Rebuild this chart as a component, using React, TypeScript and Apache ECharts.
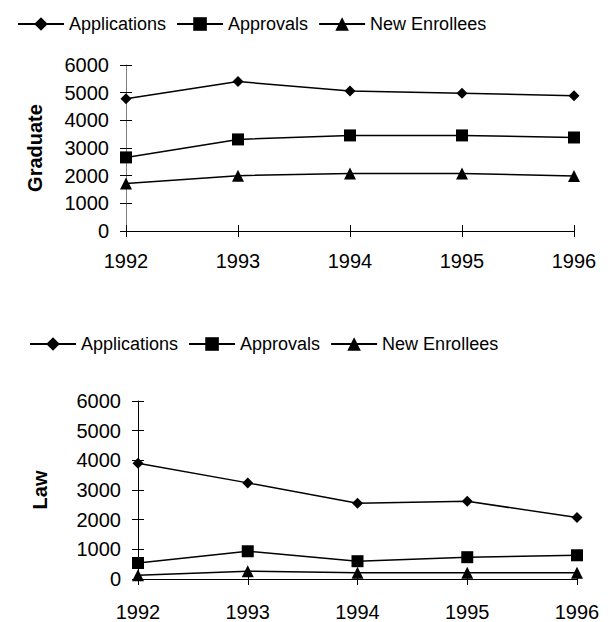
import React, { useEffect, useRef } from "react";
import * as echarts from "echarts";

const years = ["1992", "1993", "1994", "1995", "1996"];
const seriesNames = ["Applications", "Approvals", "New Enrollees"];
const symbols = ["diamond", "rect", "triangle"];
const symbolSizes = [11, 12, 12];

const gradApplications = [4780, 5400, 5060, 4980, 4890];
const gradApprovals = [2660, 3310, 3455, 3455, 3380];
const gradEnrollees = [1720, 2000, 2080, 2080, 1990];

const lawApplications = [3900, 3240, 2550, 2620, 2070];
const lawApprovals = [540, 935, 600, 735, 800];
const lawEnrollees = [130, 264, 210, 210, 210];

const FONT = "Liberation Sans, Arial, sans-serif";

export default function App() {
  const ref = useRef<HTMLDivElement>(null);
  useEffect(() => {
    document.body.style.margin = "0";
    const chart = echarts.init(ref.current!, null, { renderer: "svg" });
    const grids = [
      { left: 126, right: 39, top: 65, bottom: 391 },
      { left: 138, right: 36, top: 401, bottom: 40 },
    ];
    const yAxisColors = ["#808080", "#000"];
    const names = ["Graduate", "Law"];
    const nameGaps = [81, 88];
    const xMargins = [20, 23];
    const xAxis: any[] = [];
    const yAxis: any[] = [];
    grids.forEach((g, gi) => {
      xAxis.push({
        gridIndex: gi,
        type: "category",
        data: years,
        boundaryGap: false,
        axisLine: { lineStyle: { color: "#000", width: 1 } },
        axisTick: { length: 6, lineStyle: { color: "#000" }, interval: 0 },
        axisLabel: { fontSize: 20, color: "#000", margin: xMargins[gi], fontFamily: FONT, interval: 0 },
      });
      xAxis.push({
        gridIndex: gi,
        type: "category",
        data: years,
        boundaryGap: false,
        position: "bottom",
        axisLine: { show: false },
        axisTick: { inside: true, length: 6, lineStyle: { color: "#000" }, interval: 0 },
        axisLabel: { show: false },
      });
      yAxis.push({
        gridIndex: gi,
        type: "value",
        min: 0,
        max: 6000,
        interval: 1000,
        name: names[gi],
        nameLocation: "middle",
        nameGap: nameGaps[gi],
        nameTextStyle: { fontSize: 20, fontWeight: "bold", color: "#000", fontFamily: FONT },
        axisLine: { show: true, lineStyle: { color: yAxisColors[gi], width: 1 } },
        axisTick: { show: true, length: 6, lineStyle: { color: "#000" } },
        axisLabel: {
          fontSize: 20,
          color: "#000",
          margin: 17,
          fontFamily: FONT,
          formatter: (v: number) => String(v),
        },
        splitLine: { show: false },
      });
      yAxis.push({
        gridIndex: gi,
        type: "value",
        min: 0,
        max: 6000,
        interval: 1000,
        position: "left",
        axisLine: { show: false },
        axisTick: { show: true, inside: true, length: 6, lineStyle: { color: "#000" } },
        axisLabel: { show: false },
        splitLine: { show: false },
      });
    });
    const data = [
      [gradApplications, gradApprovals, gradEnrollees],
      [lawApplications, lawApprovals, lawEnrollees],
    ];
    const series: any[] = [];
    data.forEach((set, gi) => {
      set.forEach((vals, si) => {
        series.push({
          type: "line",
          name: seriesNames[si],
          xAxisIndex: gi * 2,
          yAxisIndex: gi * 2,
          data: vals,
          symbol: symbols[si],
          symbolSize: symbolSizes[si],
          showSymbol: true,
          lineStyle: { color: "#000", width: 1.5 },
          itemStyle: { color: "#000" },
          z: 5,
        });
      });
    });
    const legendBase = {
      orient: "horizontal",
      itemWidth: 46,
      itemHeight: 17,
      itemGap: 10,
      data: seriesNames,
      textStyle: { fontSize: 18, color: "#000", fontFamily: FONT },
      selectedMode: false,
    };
    chart.setOption({
      animation: false,
      backgroundColor: "#fff",
      grid: grids,
      legend: [
        { ...legendBase, left: 12, top: 10 },
        { ...legendBase, left: 24, top: 330 },
      ],
      xAxis,
      yAxis,
      series,
    });
    return () => chart.dispose();
  }, []);
  return <div ref={ref} style={{ width: 613, height: 622 }} />;
}
